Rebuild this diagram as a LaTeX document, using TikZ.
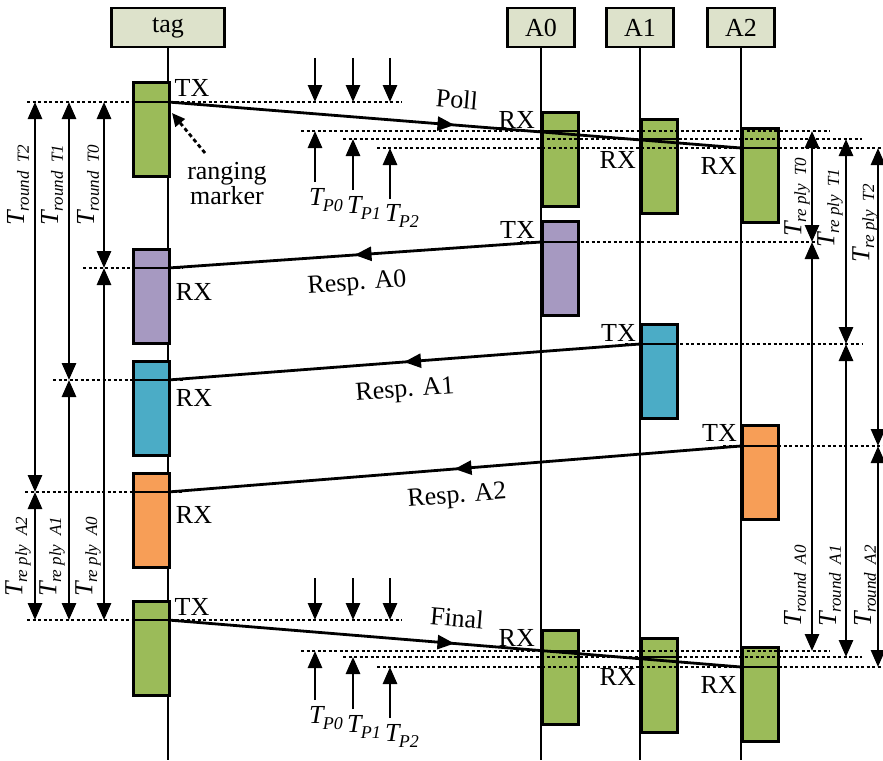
\documentclass[tikz,border=0pt]{standalone}
\usepackage{fontspec}
\setmainfont{Liberation Serif}
\usetikzlibrary{arrows.meta,decorations.markings}
\definecolor{hdr}{HTML}{DDE2CB}
\definecolor{grn}{HTML}{9BBB59}
\definecolor{pur}{HTML}{A699C1}
\definecolor{blu}{HTML}{4BACC6}
\definecolor{org}{HTML}{F79E57}
\newcommand{\Tsb}[1]{{\itshape T\kern-0.5pt\raisebox{-0.4ex}{\fontsize{17}{17}\selectfont #1}}}
\newcommand{\Tpl}[1]{{\itshape T\kern-0.5pt\raisebox{-0.45ex}{\fontsize{18}{18}\selectfont #1}}}
\tikzset{
  hdrbox/.style={draw, line width=2.5pt, fill=hdr, minimum height=39pt, inner sep=0pt, font=\fontsize{26}{26}\selectfont},
  life/.style={line width=2.6pt},
  blk/.style={draw, line width=2.5pt, minimum width=36pt, minimum height=94pt, inner sep=0pt, anchor=north west},
  blkline/.style={line width=2.5pt},
  dl/.style={line width=2.5pt, dash pattern=on 3pt off 2.5pt},
  arr/.style={line width=2.8pt, -{Triangle[length=17pt,width=14pt]}},
  darr/.style={line width=2.8pt, {Triangle[length=17pt,width=14pt]}-{Triangle[length=17pt,width=14pt]}},
  msg/.style={line width=2.8pt, postaction={decorate},
    decoration={markings, mark=at position 0.5 with {\arrow{Triangle[length=17pt,width=14pt]}}}},
  lbl/.style={font=\fontsize{26}{26}\selectfont, inner sep=0pt},
  tlbl/.style={font=\fontsize{26}{26}\selectfont, inner sep=0pt, rotate=90},
}
\begin{document}
\begin{tikzpicture}[x=1pt,y=-1pt]
\useasboundingbox (0,0) rectangle (883,760);
% headers
\node[hdrbox, minimum width=113pt] (tag) at (168,27.5) {tag};
\node[hdrbox, minimum width=67pt] (A0) at (541,27.5) {A0};
\node[hdrbox, minimum width=67pt] (A1) at (640,27.5) {A1};
\node[hdrbox, minimum width=67pt] (A2) at (741,27.5) {A2};
\coordinate (tagE) at (168,760);
\coordinate (A0E) at (541,760);
\coordinate (A1E) at (640,760);
\coordinate (A2E) at (741,760);
\draw[life] (tag.south) -- (tagE);
\draw[life] (A0.south) -- (A0E);
\draw[life] (A1.south) -- (A1E);
\draw[life] (A2.south) -- (A2E);
% blocks
\node[blk, fill=grn] (tb1) at (132,81) {};
\node[blk, fill=pur] (tb2) at (132,248) {};
\node[blk, fill=blu] (tb3) at (132,360) {};
\node[blk, fill=org] (tb4) at (132,472) {};
\node[blk, fill=grn] (tb5) at (132,600) {};
\node[blk, fill=grn] (a0b1) at (541,111) {};
\node[blk, fill=pur] (a0b2) at (541,220) {};
\node[blk, fill=grn] (a0b3) at (541,629) {};
\node[blk, fill=grn] (a1b1) at (640,118) {};
\node[blk, fill=blu] (a1b2) at (640,323) {};
\node[blk, fill=grn] (a1b3) at (640,637) {};
\node[blk, fill=grn] (a2b1) at (741,127) {};
\node[blk, fill=org] (a2b2) at (741,424) {};
\node[blk, fill=grn] (a2b3) at (741,646) {};
% dashed reference lines
\foreach \n/\y/\xa/\xb in {d1/102/27/402, d2/268/83/183, d3/380/53/183, d4/492/25/183, d5/620/27/402,
  d6/131/301/830, d7/139/343/862, d8/148/377/883, d9/242/520/818, d10/344/625/862, d11/446/723/883,
  d12/651/301/830, d13/657/343/862, d14/667/377/883}{
  \coordinate (\n a) at (\xa,\y);
  \coordinate (\n b) at (\xb,\y);
  \draw[dl] (\n a) -- (\n b);
}
% solid lines across blocks
\foreach \b/\y in {tb1/102, tb2/268, tb3/380, tb4/492, tb5/620, a0b1/131, a0b2/242, a0b3/651,
  a1b1/139, a1b2/344, a1b3/657, a2b1/148, a2b2/446, a2b3/667}{
  \coordinate (\b l) at (\b.west |- 0,\y);
  \coordinate (\b r) at (\b.east |- 0,\y);
  \draw[blkline] (\b l) -- (\b r);
}
% messages
\coordinate (pollS) at (168,102); \coordinate (pollE) at (741,148);
\coordinate (r0S) at (541,242); \coordinate (r0E) at (168,268);
\coordinate (r1S) at (640,344); \coordinate (r1E) at (168,380);
\coordinate (r2S) at (741,446); \coordinate (r2E) at (168,492);
\coordinate (finS) at (168,620); \coordinate (finE) at (741,667);
\draw[msg] (pollS) -- (pollE);
\draw[msg] (r0S) -- (r0E);
\draw[msg] (r1S) -- (r1E);
\draw[msg] (r2S) -- (r2E);
\draw[msg] (finS) -- (finE);
% T_P arrows
\foreach \n/\x/\ya/\yb in {p0/315/182/131, p1/353/190/139, p2/390/199/148,
  q0/315/700/651, q1/353/709/657, q2/390/718/667,
  u0/315/58/102, u1/353/58/102, u2/390/58/102,
  v0/315/578/620, v1/353/578/620, v2/390/578/620}{
  \coordinate (\n s) at (\x,\ya);
  \coordinate (\n e) at (\x,\yb);
  \draw[arr] (\n s) -- (\n e);
}
% double arrows
\foreach \n/\x/\ya/\yb in {L1/35/102/492, L2/35/492/620, L3/69/102/380, L4/69/380/620,
  L5/104/102/268, L6/104/268/620,
  R1/812/131/242, R2/812/242/651, R3/846/139/344, R4/846/344/657, R5/878/148/446, R6/878/446/667}{
  \coordinate (\n s) at (\x,\ya);
  \coordinate (\n e) at (\x,\yb);
  \draw[darr] (\n s) -- (\n e);
}
% ranging marker
\node[lbl, align=center] (rm) at (227,184) {ranging\\[-1pt]marker};
\coordinate (rmS) at (205,153);
\coordinate (rmE) at (172,113);
\draw[line width=2.8pt, dash pattern=on 4pt off 3pt, -{Triangle[length=13pt,width=12pt]}] (rmS) -- (rmE);
% tag labels
\node[lbl] (tx1) at (192,88) {TX};
\node[lbl] (rx1) at (194,292) {RX};
\node[lbl] (rx2) at (194,398) {RX};
\node[lbl] (rx3) at (194,515) {RX};
\node[lbl] (tx2) at (192,607) {TX};
% anchor labels
\node[lbl, anchor=east] (a0rx) at (535,120) {RX};
\node[lbl, anchor=east] (a0tx) at (535,230) {TX};
\node[lbl, anchor=east] (a1rx) at (636,160) {RX};
\node[lbl, anchor=east] (a1tx) at (636,333) {TX};
\node[lbl, anchor=east] (a2rx) at (737,166) {RX};
\node[lbl, anchor=east] (a2tx) at (737,433) {TX};
\node[lbl, anchor=east] (a0rx2) at (535,638) {RX};
\node[lbl, anchor=east] (a1rx2) at (636,677) {RX};
\node[lbl, anchor=east] (a2rx2) at (737,685) {RX};
% message labels
\node[lbl, rotate=-4.8] (lpoll) at (457,99) {Poll};
\node[lbl, rotate=4] (lr0) at (357,284) {Resp. A0};
\node[lbl, rotate=4.3] (lr1) at (405,391) {Resp. A1};
\node[lbl, rotate=4.6] (lr2) at (457,497) {Resp. A2};
\node[lbl, rotate=-4.8] (lfin) at (457,618) {Final};
% T_P labels
\node[lbl] (tp0) at (326,200) {\Tpl{P0}};
\node[lbl] (tp1) at (364,208) {\Tpl{P1}};
\node[lbl] (tp2) at (402,216) {\Tpl{P2}};
\node[lbl] (tq0) at (326,718) {\Tpl{P0}};
\node[lbl] (tq1) at (364,727) {\Tpl{P1}};
\node[lbl] (tq2) at (402,736) {\Tpl{P2}};
% rotated time labels
\node[tlbl] (tr2) at (18,185) {\Tsb{round\ \ T2}};
\node[tlbl] (tr1) at (52,185) {\Tsb{round\ \ T1}};
\node[tlbl] (tr0) at (88,185) {\Tsb{round\ \ T0}};
\node[tlbl] (tpa2) at (18,557) {\Tsb{re\ ply\ \ A2}};
\node[tlbl] (tpa1) at (52,557) {\Tsb{re\ ply\ \ A1}};
\node[tlbl] (tpa0) at (88,557) {\Tsb{re\ ply\ \ A0}};
\node[tlbl] (tpt0) at (797,197) {\Tsb{re\ ply\ \ T0}};
\node[tlbl] (tpt1) at (830,208) {\Tsb{re\ ply\ \ T1}};
\node[tlbl] (tpt2) at (865,223) {\Tsb{re\ ply\ \ T2}};
\node[tlbl] (tra0) at (795,586) {\Tsb{round\ \ A0}};
\node[tlbl] (tra1) at (830,586) {\Tsb{round\ \ A1}};
\node[tlbl] (tra2) at (865,586) {\Tsb{round\ \ A2}};
\end{tikzpicture}
\end{document}
